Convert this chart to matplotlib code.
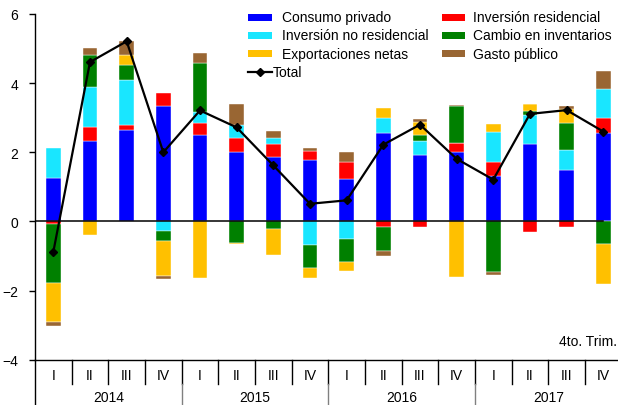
import matplotlib
matplotlib.use("Agg")
import matplotlib.pyplot as plt
from matplotlib.patches import Rectangle
from matplotlib.lines import Line2D
import numpy as np

plt.rcParams['font.family'] = ['Liberation Sans', 'DejaVu Sans']
plt.rcParams['font.size'] = 10

years = ['2014', '2015', '2016', '2017']
quarters = ['I', 'II', 'III', 'IV']

consumo = [1.26, 2.34, 2.65, 3.35, 2.49, 2.02, 1.85, 1.79, 1.23, 2.57, 1.93, 2.01, 1.32, 2.25, 1.49, 2.57]
residencial = [-0.07, 0.39, 0.14, 0.36, 0.36, 0.40, 0.38, 0.26, 0.48, -0.17, -0.17, 0.25, 0.41, -0.31, -0.17, 0.43]
no_residencial = [0.86, 1.16, 1.31, -0.29, 0.31, 0.37, 0.19, -0.67, -0.52, 0.42, 0.41, 0.0, 0.87, 0.82, 0.58, 0.84]
inventarios = [-1.70, 0.91, 0.43, -0.27, 1.43, -0.62, -0.21, -0.67, -0.64, -0.68, 0.17, 1.07, -1.46, 0.11, 0.79, -0.66]
exportaciones = [-1.14, -0.39, 0.29, -1.02, -1.63, -0.04, -0.77, -0.29, -0.27, 0.28, 0.37, -1.61, 0.22, 0.22, 0.38, -1.14]
gasto = [-0.11, 0.21, 0.39, -0.10, 0.29, 0.61, 0.20, 0.06, 0.31, -0.16, 0.07, 0.05, -0.10, 0.0, 0.10, 0.52]
total = [-0.88, 4.61, 5.21, 2.00, 3.21, 2.72, 1.62, 0.51, 0.61, 2.22, 2.80, 1.81, 1.21, 3.11, 3.22, 2.60]

series = [
    ('Consumo privado', consumo, '#0000FF'),
    ('Inversión residencial', residencial, '#FF0000'),
    ('Inversión no residencial', no_residencial, '#19E6FF'),
    ('Cambio en inventarios', inventarios, '#008000'),
    ('Exportaciones netas', exportaciones, '#FFC000'),
    ('Gasto público', gasto, '#996633'),
]

W, H = 618, 406
fig = plt.figure(figsize=(W / 100, H / 100), dpi=100)
ax = fig.add_axes([35 / W, 1 - 360.7 / H, 586.6 / W, (360.7 - 15) / H])

n = len(total)
x = np.arange(n)
pos = np.zeros(n)
neg = np.zeros(n)
for name, vals, col in series:
    v = np.array(vals)
    bottoms = np.where(v >= 0, pos, neg)
    ax.bar(x, v, 0.4, bottom=bottoms, color=col, edgecolor='#ffffff', linewidth=0.3, zorder=2)
    pos += np.where(v >= 0, v, 0)
    neg += np.where(v < 0, v, 0)

ax.plot([-0.5, n - 1], [0, 0], color='black', lw=1.1, zorder=3)
ax.plot(x, total, color='black', lw=1.6, marker='D', ms=4.5, zorder=4)

ax.set_xlim(-0.5, n - 0.5)
ax.set_ylim(-4, 6)
ax.set_yticks([-4, -2, 0, 2, 4, 6])
ax.tick_params(axis='y', direction='out', length=4, width=1, pad=8, labelsize=10)
ax.set_xticks([])
for s in ['top', 'right']:
    ax.spines[s].set_visible(False)
ax.spines['left'].set_linewidth(1.0)
ax.spines['bottom'].set_linewidth(1.0)

# category axis below
ppu = 34.6
def ydata(px):
    return -4 - (px - 360.7) / ppu

ax.plot([-0.5, -0.5], [-4, ydata(410)], color='black', lw=1.0, clip_on=False)
for k in range(1, n):
    ax.plot([k - 0.5, k - 0.5], [-4, ydata(385)], color='black', lw=1.0, clip_on=False)
for k in [4, 8, 12]:
    ax.plot([k - 0.5, k - 0.5], [ydata(385), ydata(410)], color='#808080', lw=1.0, clip_on=False)
for i in range(n):
    ax.text(i, ydata(376), quarters[i % 4], ha='center', va='center', fontsize=10, clip_on=False)
for j, yr in enumerate(years):
    ax.text(4 * j + 1.5, ydata(398), yr, ha='center', va='center', fontsize=10, clip_on=False)

fig.text(617 / W, 1 - 342 / H, '4to. Trim.', ha='right', va='center', fontsize=10)

# legend (manual)
rows = [18.3, 36.5, 54.7, 73.0]
col1 = [('Consumo privado', '#0000FF'), ('Inversión no residencial', '#19E6FF'), ('Exportaciones netas', '#FFC000')]
col2 = [('Inversión residencial', '#FF0000'), ('Cambio en inventarios', '#008000'), ('Gasto público', '#996633')]
for (items, hx, tx) in [(col1, 248.3, 281.7), (col2, 441.7, 473.3)]:
    for r, (lab, col) in zip(rows, items):
        fig.patches.append(Rectangle((hx / W, 1 - (r + 3.3) / H), 23.4 / W, 6.6 / H,
                                     transform=fig.transFigure, facecolor=col, edgecolor='none'))
        fig.text(tx / W, 1 - r / H, lab, ha='left', va='center', fontsize=10)
r = rows[3]
fig.lines.append(Line2D([248.3 / W, 271.7 / W], [1 - r / H, 1 - r / H], transform=fig.transFigure,
                        color='black', lw=1.6))
fig.lines.append(Line2D([260 / W], [1 - r / H], transform=fig.transFigure, color='black',
                        marker='D', ms=4.5, lw=0))
fig.text(273 / W, 1 - r / H, 'Total', ha='left', va='center', fontsize=10)

fig.savefig('out.png', dpi=100)
